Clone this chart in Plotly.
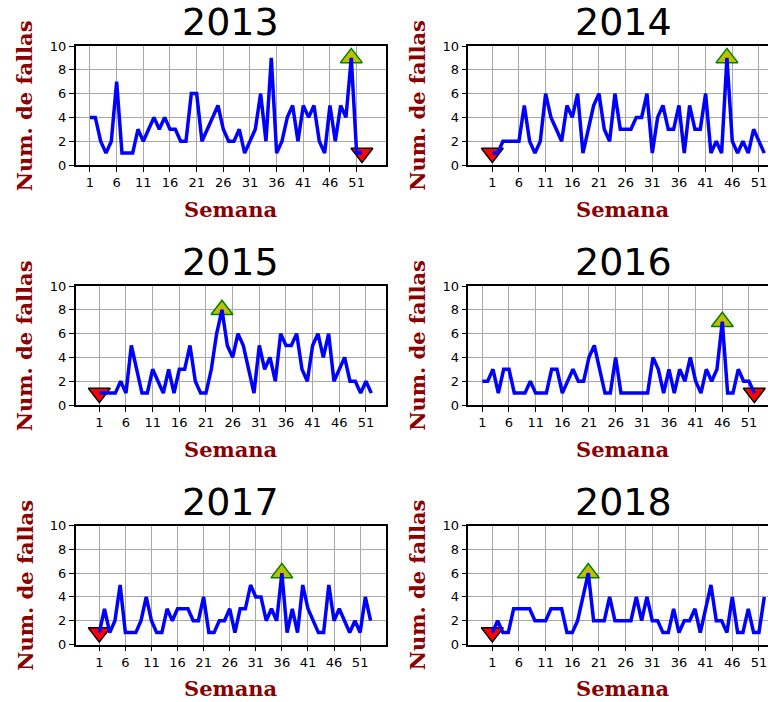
import plotly.graph_objects as go

# Fallas semanales por año
anios = [2013, 2014, 2015, 2016, 2017, 2018]

fallas_2013 = [4, 4, 2, 1, 2, 7, 1, 1, 1, 3, 2, 3, 4, 3, 4, 3, 3, 2, 2, 6,
               6, 2, 3, 4, 5, 3, 2, 2, 3, 1, 2, 3, 6, 2, 9, 1, 2, 4, 5, 2,
               5, 4, 5, 2, 1, 5, 2, 5, 4, 9, 1, 1]
fallas_2014 = [1, 1, 2, 2, 2, 2, 5, 2, 1, 2, 6, 4, 3, 2, 5, 4, 6, 1, 3, 5,
               6, 3, 2, 6, 3, 3, 3, 4, 4, 6, 1, 4, 5, 3, 3, 5, 1, 5, 3, 3,
               6, 1, 2, 1, 9, 2, 1, 2, 1, 3, 2, 1]
fallas_2015 = [1, 1, 1, 1, 2, 1, 5, 3, 1, 1, 3, 2, 1, 3, 1, 3, 3, 5, 2, 1,
               1, 3, 6, 8, 5, 4, 6, 5, 3, 1, 5, 3, 4, 2, 6, 5, 5, 6, 3, 2,
               5, 6, 4, 6, 2, 3, 4, 2, 2, 1, 2, 1]
fallas_2016 = [2, 2, 3, 1, 3, 3, 1, 1, 1, 2, 1, 1, 1, 3, 3, 1, 2, 3, 2, 2,
               4, 5, 3, 1, 1, 4, 1, 1, 1, 1, 1, 1, 4, 3, 1, 3, 1, 3, 2, 4,
               2, 1, 3, 2, 3, 7, 1, 1, 3, 2, 2, 1]
fallas_2017 = [1, 3, 1, 2, 5, 1, 1, 1, 2, 4, 2, 1, 1, 3, 2, 3, 3, 3, 2, 2,
               4, 1, 1, 2, 2, 3, 1, 3, 3, 5, 4, 4, 2, 3, 2, 6, 1, 3, 1, 5,
               3, 2, 1, 1, 5, 2, 3, 2, 1, 2, 1, 4, 2]
fallas_2018 = [1, 2, 1, 1, 3, 3, 3, 3, 2, 2, 2, 3, 3, 3, 1, 1, 2, 4, 6, 2,
               2, 2, 4, 2, 2, 2, 2, 4, 2, 4, 2, 2, 1, 1, 3, 1, 2, 2, 3, 1,
               3, 5, 2, 2, 1, 4, 1, 1, 3, 1, 1, 4]

# Semana marcada como máximo y como mínimo en cada año
semana_max = [50, 45, 24, 46, 36, 19]
semana_min = [52, 1, 1, 52, 1, 1]

ticks_semana = list(range(1, 52, 5))
ticks_fallas = list(range(0, 11, 2))

series = [fallas_2013, fallas_2014, fallas_2015, fallas_2016, fallas_2017, fallas_2018]

# ---- geometría de la figura (px) ----
W, H = 790, 702
col_left = [(75.7, 385.7), (468.3, 778.3)]
row_top = [(46.0, 165.0), (286.0, 405.0), (525.5, 644.5)]
x_ranges = [(-1.68, 56.45), (-3.5, 54.63), (-3.43, 54.7),
            (-1.63, 56.5), (-3.52, 55.9), (-3.5, 54.63)]

def px_x(p):
    return p / W

def px_y(p):
    return 1 - p / H

AXIS_RED = "#8b0000"
tick_font = dict(family="DejaVu Sans", size=13, color="black")
label_font = dict(family="DejaVu Serif", size=21, color=AXIS_RED, weight="bold")
title_font = dict(family="DejaVu Sans", size=38, color="black")

fig = go.Figure()
annotations = []
layout_axes = {}

for i, (anio, valores) in enumerate(zip(anios, series)):
    r, c = divmod(i, 2)
    xa = "x" if i == 0 else f"x{i + 1}"
    ya = "y" if i == 0 else f"y{i + 1}"
    semanas = list(range(1, len(valores) + 1))

    smax, smin = semana_max[i], semana_min[i]
    fig.add_trace(go.Scatter(
        x=[smax], y=[valores[smax - 1]], mode="markers", xaxis=xa, yaxis=ya,
        marker=dict(symbol="triangle-up", size=19, color="#bfbf00",
                    line=dict(color="#008000", width=1.5)),
        showlegend=False, hoverinfo="skip"))
    fig.add_trace(go.Scatter(
        x=[smin], y=[valores[smin - 1]], mode="markers", xaxis=xa, yaxis=ya,
        marker=dict(symbol="triangle-down", size=19, color="#ff0000",
                    line=dict(color="black", width=1.5)),
        showlegend=False, hoverinfo="skip"))
    fig.add_trace(go.Scatter(
        x=semanas, y=valores, mode="lines", xaxis=xa, yaxis=ya,
        line=dict(color="#0000ff", width=3.5), showlegend=False,
        name=str(anio)))

    x0, x1 = col_left[c]
    y0, y1 = row_top[r]
    key_x = "xaxis" if i == 0 else f"xaxis{i + 1}"
    key_y = "yaxis" if i == 0 else f"yaxis{i + 1}"
    common = dict(showline=True, linecolor="black", linewidth=1.5, mirror=True,
                  ticks="outside", ticklen=5, tickwidth=1.2, tickcolor="black",
                  showgrid=True, gridcolor="#a8a8a8", gridwidth=1,
                  zeroline=False, tickfont=tick_font, automargin=False,
                  fixedrange=True)
    layout_axes[key_x] = dict(common, domain=[px_x(x0), px_x(x1)],
                              range=list(x_ranges[i]), tickvals=ticks_semana,
                              anchor=ya)
    layout_axes[key_y] = dict(common, domain=[px_y(y1), px_y(y0)],
                              range=[0, 10], tickvals=ticks_fallas, anchor=xa)

    cx = px_x((x0 + x1) / 2)
    annotations.append(dict(text=str(anio), x=cx, y=px_y(y0 - 24),
                            xref="paper", yref="paper", showarrow=False,
                            xanchor="center", yanchor="middle", font=title_font))
    annotations.append(dict(text="Semana", x=cx, y=px_y(y1 + 44),
                            xref="paper", yref="paper", showarrow=False,
                            xanchor="center", yanchor="middle", font=label_font))
    annotations.append(dict(text="Num. de fallas", x=px_x(x0 - 51),
                            y=px_y((y0 + y1) / 2), xref="paper", yref="paper",
                            showarrow=False, textangle=-90, xanchor="center",
                            yanchor="middle", font=label_font))

fig.update_layout(
    width=W, height=H, margin=dict(l=0, r=0, t=0, b=0),
    paper_bgcolor="white", plot_bgcolor="white",
    template="none", annotations=annotations, **layout_axes)

# La figura se recorta al ancho de la ventana (768 px)
recorte = ("var gd=document.getElementById('{plot_id}');"
           "gd.parentElement.style.width='768px';"
           "gd.parentElement.style.overflow='hidden';"
           "document.documentElement.style.overflow='hidden';"
           "document.body.style.overflow='hidden';")

fig.write_html("out.html", post_script=recorte)
